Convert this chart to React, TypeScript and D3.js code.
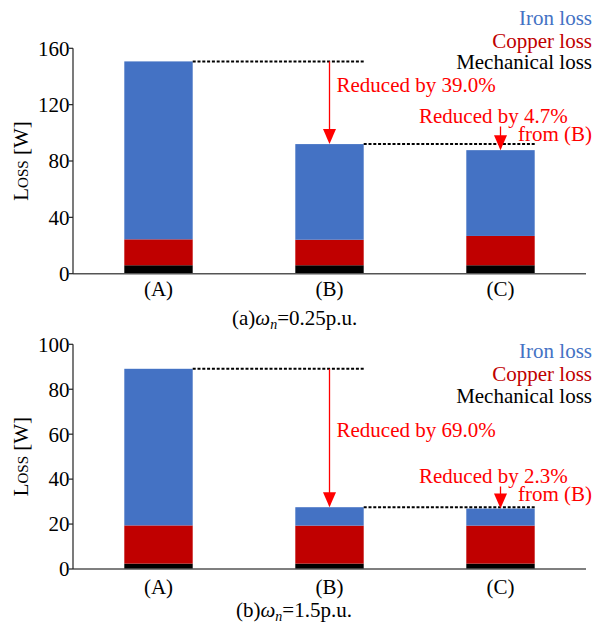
import React from "react";
import * as d3 from "d3";

const categories = ["(A)", "(B)", "(C)"];
const seriesNames = ["Mechanical loss", "Copper loss", "Iron loss"];
const seriesColors = ["#000000", "#C00000", "#4472C4"];

// panel (a) omega_n = 0.25 p.u.
const mechA = [6, 6, 6];
const copperA = [18.4, 18.1, 20.8];
const ironA = [126.3, 67.9, 60.9];
const ticksA = [0, 40, 80, 120, 160];
const reductionsA = ["39.0", "4.7"];

// panel (b) omega_n = 1.5 p.u.
const mechB = [2.4, 2.4, 2.4];
const copperB = [17, 16.9, 16.9];
const ironB = [69.7, 8.2, 7.6];
const ticksB = [0, 20, 40, 60, 80, 100];
const reductionsB = ["69.0", "2.3"];

const FONT = "Liberation Serif, Times New Roman, serif";
const RED = "#FF0000";

const x = d3.scaleBand<string>().domain(categories).range([73, 586]).paddingInner(0.6).paddingOuter(0.3);

type Layout = {
  top: number; bottom: number; legendY: number[]; bigTextY: number;
  smallTextY: number; fromY: number; smallArrowStart: number; catY: number;
  captionX: number; captionY: number; caption: string; value: string;
};

const layoutA: Layout = {
  top: 48.3, bottom: 273.7, legendY: [25, 47.5, 69], bigTextY: 92,
  smallTextY: 123, fromY: 140.5, smallArrowStart: 126.5, catY: 296,
  captionX: 232, captionY: 325, caption: "(a)", value: "=0.25p.u.",
};
const layoutB: Layout = {
  top: 344.3, bottom: 569, legendY: [358.3, 380.5, 402.7], bigTextY: 437,
  smallTextY: 482.7, fromY: 500.5, smallArrowStart: 486.5, catY: 594,
  captionX: 236, captionY: 617, caption: "(b)", value: "=1.5p.u.",
};

function Arrow({ x0, y0, y1 }: { x0: number; y0: number; y1: number }) {
  const hh = Math.min(15, y1 - y0);
  return (
    <g>
      <line x1={x0} x2={x0} y1={y0} y2={y1 - hh + 1} stroke={RED} strokeWidth={1.3} />
      <path d={`M${x0 - 6.5},${y1 - hh} L${x0 + 6.5},${y1 - hh} L${x0},${y1} Z`} fill={RED} />
    </g>
  );
}

function Panel({ mech, copper, iron, ticks, reductions, L }: {
  mech: number[]; copper: number[]; iron: number[]; ticks: number[]; reductions: string[]; L: Layout;
}) {
  const y = d3.scaleLinear().domain([0, ticks[ticks.length - 1]]).range([L.bottom, L.top]);
  const rows = categories.map((c, i) => ({ cat: c, m: mech[i], c: copper[i], f: iron[i] }));
  const stack = d3.stack<any>().keys(["m", "c", "f"])(rows);
  const totals = rows.map((r) => r.m + r.c + r.f);
  const [x0, x1] = x.range();
  const bw = x.bandwidth();
  const cx = (c: string) => (x(c) as number) + bw / 2;
  const legendColors = [seriesColors[2], seriesColors[1], seriesColors[0]];
  const legendNames = [seriesNames[2], seriesNames[1], seriesNames[0]];
  const txt = { fontFamily: FONT, fontSize: 21 };

  return (
    <g style={txt}>
      {stack.map((s, si) =>
        s.map((d, i) => (
          <rect key={`${si}-${i}`} x={x(categories[i])} width={bw} y={y(d[1])}
            height={y(d[0]) - y(d[1])} fill={seriesColors[si]} />
        ))
      )}
      {/* dashed reference lines */}
      <line x1={(x("(A)") as number) + bw} x2={(x("(B)") as number) + bw} y1={y(totals[0])} y2={y(totals[0])}
        stroke="#000" strokeWidth={2} strokeDasharray="3,1.8" />
      <line x1={(x("(B)") as number) + bw} x2={(x("(C)") as number) + bw} y1={y(totals[1])} y2={y(totals[1])}
        stroke="#000" strokeWidth={2} strokeDasharray="3,1.8" />
      <Arrow x0={cx("(B)")} y0={y(totals[0])} y1={y(totals[1])} />
      <Arrow x0={cx("(C)")} y0={L.smallArrowStart} y1={y(totals[2])} />
      {/* axes */}
      <line x1={x0} x2={x1} y1={L.bottom} y2={L.bottom} stroke="#555" strokeWidth={1.5} />
      <line x1={x0} x2={x0} y1={L.top} y2={L.bottom} stroke="#222" strokeWidth={1.2} />
      {ticks.map((t) => (
        <g key={t}>
          <line x1={x0 - 4} x2={x0} y1={y(t)} y2={y(t)} stroke="#222" strokeWidth={1.2} />
          <text x={x0 - 3.5} y={y(t)} dy="0.35em" textAnchor="end" style={txt}>{t}</text>
        </g>
      ))}
      <text transform={`translate(28,${(L.top + L.bottom) / 2}) rotate(-90)`} textAnchor="middle" style={txt}>
        L<tspan style={{ fontVariant: "small-caps" }}>oss</tspan> [W]
      </text>
      {categories.map((c) => (
        <text key={c} x={cx(c)} y={L.catY} textAnchor="middle" style={txt}>{c}</text>
      ))}
      {/* legend */}
      {legendNames.map((n, i) => (
        <text key={n} x={592} y={L.legendY[i]} textAnchor="end" style={txt} fill={legendColors[i]}>{n}</text>
      ))}
      {/* annotations */}
      <text x={cx("(B)") + 7} y={L.bigTextY} style={txt} fill={RED}>Reduced by {reductions[0]}%</text>
      <text x={419} y={L.smallTextY} style={txt} fill={RED}>Reduced by {reductions[1]}%</text>
      <text x={592} y={L.fromY} textAnchor="end" style={txt} fill={RED}>from (B)</text>
      <text x={L.captionX} y={L.captionY} style={txt}>
        {L.caption}<tspan style={{ fontStyle: "italic" }}>ω</tspan>
        <tspan style={{ fontStyle: "italic", fontSize: 14 }} dy={4}>n</tspan>
        <tspan dy={-4}>{L.value}</tspan>
      </text>
    </g>
  );
}

export default function App() {
  return (
    <svg width={606} height={625} style={{ position: "absolute", left: 0, top: 0, background: "#fff" }}>
      <rect width={606} height={625} fill="#fff" />
      <Panel mech={mechA} copper={copperA} iron={ironA} ticks={ticksA} reductions={reductionsA} L={layoutA} />
      <Panel mech={mechB} copper={copperB} iron={ironB} ticks={ticksB} reductions={reductionsB} L={layoutB} />
    </svg>
  );
}
